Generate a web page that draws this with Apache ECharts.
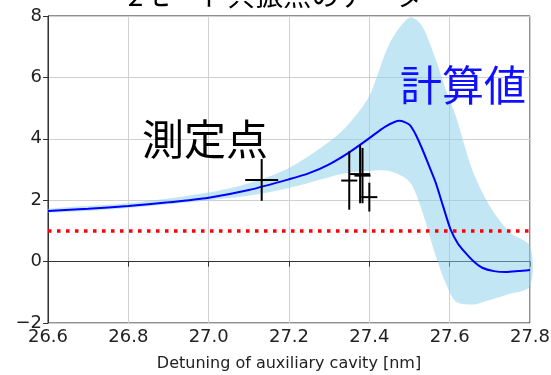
<!DOCTYPE html>
<html>
<head>
<meta charset="utf-8">
<script src="https://cdn.jsdelivr.net/npm/echarts@6/dist/echarts.min.js"></script>
<style>
  html, body { margin: 0; padding: 0; background: #fff; }
  #chart { width: 551px; height: 375px; }
</style>
</head>
<body>
<div id="chart"></div>
<script>
// Calculated response vs. auxiliary-cavity detuning
const curveX = [26.6, 26.7, 26.8, 26.9, 27.0, 27.1, 27.2, 27.25, 27.3, 27.35, 27.4, 27.44, 27.475, 27.5, 27.515, 27.532, 27.548, 27.565, 27.583, 27.602, 27.62, 27.639, 27.66, 27.681, 27.71, 27.74, 27.77, 27.8];
const curveY = [1.65, 1.72, 1.81, 1.93, 2.08, 2.33, 2.68, 2.88, 3.17, 3.56, 4.02, 4.40, 4.59, 4.46, 4.15, 3.66, 3.14, 2.58, 1.83, 1.06, 0.60, 0.29, 0.00, -0.20, -0.31, -0.34, -0.31, -0.27];

// Uncertainty band of the calculation
const bandX     = [26.6, 26.8, 27.0, 27.1, 27.2, 27.3, 27.35, 27.4, 27.45, 27.5, 27.53, 27.565, 27.59, 27.615, 27.656, 27.7, 27.75, 27.8];
const bandLower = [1.60, 1.75, 2.00, 2.15, 2.40, 2.75, 2.90, 2.95, 2.95, 2.60, 1.70, 0.20, -0.70, -1.30, -1.40, -1.25, -1.05, -0.80];
const bandUpper = [1.72, 1.90, 2.25, 2.55, 3.05, 3.90, 4.50, 5.40, 7.10, 7.95, 7.70, 6.60, 5.60, 4.75, 3.00, 1.80, 0.95, 0.50];

// Measured points with error bars
const measX    = [27.132, 27.350, 27.377, 27.383, 27.400];
const measY    = [2.66, 2.64, 2.85, 2.80, 2.10];
const measXErr = [0.041, 0.020, 0.025, 0.020, 0.020];
const measYErr = [0.68, 0.95, 0.95, 0.90, 0.47];

// Threshold level
const threshold = 1;

const xTicks = { min: 26.6, max: 27.8, step: 0.2 };
const yTicks = { min: -2, max: 8, step: 2 };

const chart = echarts.init(document.getElementById('chart'), null, { renderer: 'canvas' });

const font = 'DejaVu Sans';
const cjk = '"Noto Sans CJK JP"';

const bandPolygon = [];
for (let i = 0; i < bandX.length; i++) bandPolygon.push([bandX[i], bandUpper[i]]);
for (let i = bandX.length - 1; i >= 0; i--) bandPolygon.push([bandX[i], bandLower[i]]);

const option = {
  animation: false,
  title: {
    text: '2モード共振点のデータ',
    left: 'center',
    top: -24,
    textStyle: { fontFamily: cjk, fontSize: 28, fontWeight: 'normal', color: '#000' }
  },
  grid: {
    left: 48, right: 21, top: 16, bottom: 52,
    outerBoundsMode: 'none',
    containLabel: false,
    show: true, borderColor: '#222', borderWidth: 1
  },
  xAxis: {
    type: 'value',
    min: xTicks.min, max: xTicks.max, interval: xTicks.step,
    name: 'Detuning of auxiliary cavity [nm]',
    nameLocation: 'middle', nameGap: 33,
    nameTextStyle: { fontFamily: font, fontSize: 16, color: '#222' },
    axisLine: { show: true, lineStyle: { color: '#333', width: 1 } },
    axisTick: { show: true, length: 5, lineStyle: { color: '#333' } },
    axisLabel: {
      fontFamily: font, fontSize: 18, color: '#222', margin: 5,
      formatter: v => v.toFixed(1)
    },
    splitLine: { show: true, lineStyle: { color: '#d0d0d0', width: 1 } }
  },
  yAxis: {
    type: 'value',
    min: yTicks.min, max: yTicks.max, interval: yTicks.step,
    axisLine: { show: true, lineStyle: { color: '#333', width: 1 } },
    axisTick: { show: true, length: 5, lineStyle: { color: '#333' } },
    axisLabel: {
      fontFamily: font, fontSize: 18, color: '#222', margin: 6,
      formatter: v => (v < 0 ? '\u2212' + Math.abs(v) : String(v))
    },
    splitLine: { show: true, lineStyle: { color: '#d0d0d0', width: 1 } }
  },
  graphic: [
    {
      type: 'text', left: 142, top: 118, z: 100,
      style: { text: '測定点', font: '42px ' + cjk, fill: '#000' }
    },
    {
      type: 'text', left: 400, top: 64, z: 100,
      style: { text: '計算値', font: '42px ' + cjk, fill: '#1010ff' }
    }
  ],
  series: [
    {
      name: 'band',
      type: 'custom',
      z: 1,
      silent: true,
      data: [0],
      renderItem: (params, api) => {
        const pts = bandPolygon.map(p => api.coord(p));
        return {
          type: 'polygon',
          shape: { points: pts, smooth: 0.3 },
          style: { fill: 'rgba(135,206,235,0.5)', stroke: 'none' }
        };
      }
    },
    {
      name: 'threshold',
      type: 'line',
      z: 3,
      symbol: 'none',
      data: [[xTicks.min, threshold], [xTicks.max, threshold]],
      lineStyle: { color: '#ff0000', width: 3.5, type: [3.5, 5.5] }
    },
    {
      name: '計算値',
      type: 'line',
      z: 4,
      symbol: 'none',
      smooth: 0.25,
      data: curveX.map((x, i) => [x, curveY[i]]),
      lineStyle: { color: '#0000ff', width: 2 }
    },
    {
      name: '測定点',
      type: 'custom',
      z: 5,
      data: measX.map((x, i) => [x, measY[i], measXErr[i], measYErr[i]]),
      renderItem: (params, api) => {
        const x = api.value(0), y = api.value(1);
        const dx = api.value(2), dy = api.value(3);
        const top = api.coord([x, y + dy]);
        const bot = api.coord([x, y - dy]);
        const lft = api.coord([x - dx, y]);
        const rgt = api.coord([x + dx, y]);
        const style = { stroke: '#000', lineWidth: 2 };
        return {
          type: 'group',
          children: [
            { type: 'line', shape: { x1: top[0], y1: top[1], x2: bot[0], y2: bot[1] }, style },
            { type: 'line', shape: { x1: lft[0], y1: lft[1], x2: rgt[0], y2: rgt[1] }, style }
          ]
        };
      }
    }
  ]
};

chart.setOption(option);
</script>
</body>
</html>
